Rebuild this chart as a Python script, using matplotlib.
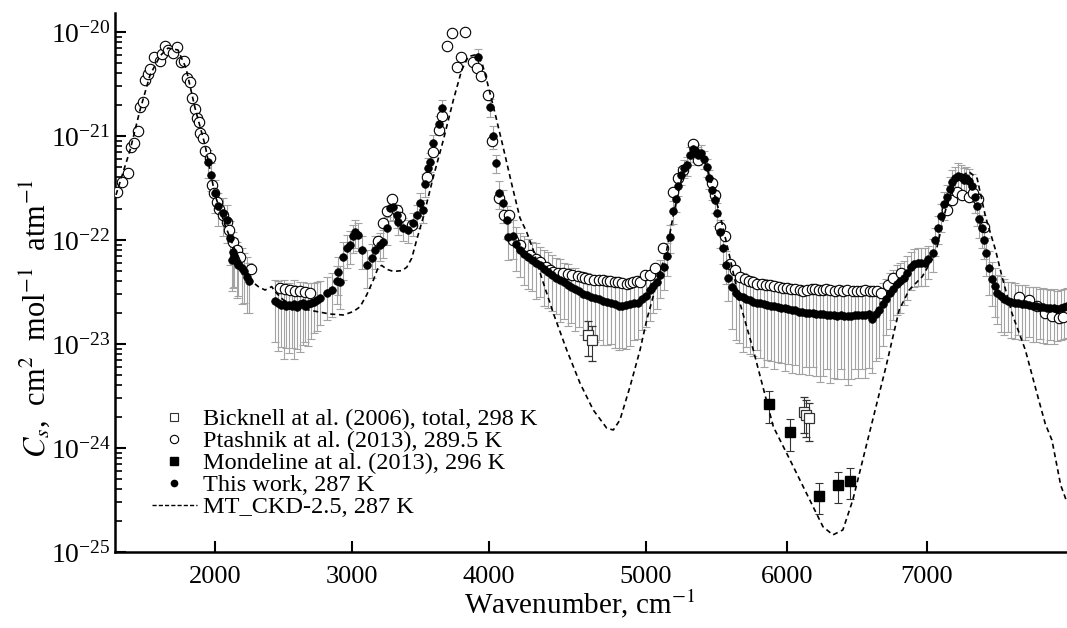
import numpy as np
import matplotlib.pyplot as plt
from matplotlib.lines import Line2D

plt.rcParams['font.family'] = ['Liberation Serif', 'DejaVu Serif']
plt.rcParams['mathtext.fontset'] = 'stix'

# ---- This work, 287 K (filled dots), values + relative errors, by region
tw_wn_a = [1951, 1969, 2000, 2024, 2056, 2085, 2110,
           2122, 2134, 2140, 2158, 2170, 2195, 2210, 2231, 2250]
tw_val_a = [5.6e-22, 4.2e-22, 2.8e-22, 2.1e-22, 1.8e-22, 1.56e-22, 1.04e-22,
            6.4e-23, 7.7e-23, 7.0e-23, 6.2e-23, 5.8e-23, 5.35e-23, 5.0e-23, 4.44e-23, 4.0e-23]
tw_rel_a = [0.3, 0.3, 0.35, 0.35, 0.4, 0.4, 0.45,
            0.5, 0.55, 0.5, 0.55, 0.5, 0.55, 0.5, 0.55, 0.5]

tw_wn_b = [2440, 2460, 2480, 2500, 2520, 2540, 2560, 2580, 2600, 2620, 2640, 2660,
           2680, 2700, 2720, 2745, 2770,
           2815, 2852, 2888, 2895, 2912, 2937, 2961, 2986, 3010, 3022, 3046, 3071, 3107]
tw_val_b = [2.6e-23, 2.45e-23, 2.35e-23, 2.4e-23, 2.3e-23, 2.35e-23, 2.3e-23, 2.4e-23,
            2.25e-23, 2.4e-23, 2.45e-23, 2.3e-23, 2.4e-23, 2.5e-23, 2.55e-23, 2.65e-23, 2.75e-23,
            3.07e-23, 3.3e-23, 4.0e-23, 4.95e-23, 3.9e-23, 6.9e-23, 8.3e-23, 8.95e-23,
            1.08e-22, 1.2e-22, 1.12e-22, 8.0e-23, 5.75e-23]
tw_rel_b = [0.6, 0.65, 0.6, 0.7, 0.6, 0.65, 0.6, 0.7, 0.6, 0.65, 0.6, 0.55, 0.6, 0.55,
            0.5, 0.5, 0.45,
            0.45, 0.45, 0.4, 0.4, 0.45, 0.4, 0.35, 0.35, 0.3, 0.3, 0.3, 0.35, 0.4]

tw_wn_c = [3144, 3168, 3205, 3229, 3254, 3278, 3302, 3326, 3338, 3375, 3411, 3448,
           3472, 3497, 3521,
           3533, 3557, 3570, 3594, 3637, 3655, 3922, 4006, 4024, 4043, 4066, 4091,
           4113, 4123]
tw_val_c = [6.7e-23, 8.0e-23, 8.95e-23, 9.6e-23, 1.29e-22, 2.02e-22, 2.09e-22, 1.74e-22,
            1.5e-22, 1.29e-22, 1.25e-22, 1.45e-22, 1.74e-22, 2.25e-22, 1.94e-22,
            3.43e-22, 4.9e-22, 5.66e-22, 8.5e-22, 1.3e-21, 1.85e-21, 5.7e-21, 1.89e-21,
            1.0e-21, 5.46e-22, 2.81e-22, 2.25e-22, 1.56e-22, 1.06e-22]
tw_rel_c = [0.35, 0.35, 0.3, 0.3, 0.3, 0.25, 0.25, 0.25, 0.25, 0.25, 0.25, 0.25, 0.25,
            0.25, 0.25,
            0.25, 0.25, 0.2, 0.2, 0.2, 0.2, 0.2, 0.2, 0.25, 0.2, 0.3, 0.35, 0.35, 0.4]

tw_wn_d = [4150, 4175, 4200, 4225, 4250, 4275, 4300, 4325, 4350, 4375, 4400, 4425,
           4450, 4475, 4500, 4525, 4550, 4575, 4600, 4625, 4650, 4675, 4700, 4725,
           4750, 4775, 4800, 4825, 4850, 4875, 4900, 4925, 4950, 4975, 5000]
tw_val_d = [1.1e-22, 9.2e-23, 8.0e-23, 7.3e-23, 6.8e-23, 6.4e-23, 6.0e-23, 5.7e-23,
            5.2e-23, 4.9e-23, 4.6e-23, 4.3e-23, 4.1e-23, 3.9e-23, 3.7e-23, 3.5e-23,
            3.35e-23, 3.2e-23, 3.05e-23, 2.95e-23, 2.85e-23, 2.75e-23, 2.7e-23, 2.6e-23,
            2.55e-23, 2.5e-23, 2.4e-23, 2.3e-23, 2.3e-23, 2.35e-23, 2.4e-23, 2.45e-23,
            2.5e-23, 2.7e-23, 2.9e-23]
tw_rel_d = [0.4, 0.45, 0.45, 0.5, 0.5, 0.5, 0.55, 0.5, 0.55, 0.55, 0.55, 0.55, 0.6, 0.55,
            0.6, 0.55, 0.6, 0.55, 0.6, 0.62, 0.6, 0.62, 0.6, 0.62, 0.62, 0.6, 0.62, 0.62,
            0.6, 0.62, 0.6, 0.55, 0.55, 0.5, 0.5]

tw_wn_e = [5025, 5050, 5075, 5100, 5125, 5150, 5170, 5190, 5210, 5230, 5250, 5270,
           5290, 5310, 5330, 5350, 5370, 5390, 5410, 5430, 5450, 5470, 5490, 5505,
           5525, 5545, 5565, 5585]
tw_val_e = [3.3e-23, 3.6e-23, 3.9e-23, 4.6e-23, 5.5e-23, 7.0e-23, 1.06e-22, 1.9e-22,
            2.5e-22, 3.3e-22, 4.2e-22, 4.9e-22, 5.2e-22, 6.5e-22, 7.5e-22, 7.0e-22,
            6.5e-22, 6.8e-22, 6.0e-22, 5.0e-22, 3.9e-22, 3.0e-22, 2.4e-22, 1.8e-22,
            1.2e-22, 8.3e-23, 5.8e-23, 4.3e-23]
tw_rel_e = [0.5, 0.45, 0.45, 0.4, 0.4, 0.35, 0.3, 0.25, 0.25, 0.2, 0.2, 0.2, 0.2, 0.2,
            0.2, 0.2, 0.2, 0.2, 0.2, 0.2, 0.2, 0.2, 0.25, 0.25, 0.3, 0.3, 0.35, 0.4]

tw_wn_f = [5610, 5635, 5660, 5685, 5710, 5735, 5760, 5785, 5810, 5835, 5860, 5885,
           5910, 5935, 5960, 5985, 6010, 6035, 6060, 6085, 6110, 6135, 6160, 6185,
           6210, 6235, 6260, 6285, 6310, 6335, 6360, 6385, 6410, 6435, 6460, 6485,
           6510, 6535, 6560, 6585, 6610, 6635, 6660]
tw_val_f = [3.5e-23, 3.1e-23, 2.9e-23, 2.8e-23, 2.7e-23, 2.65e-23, 2.55e-23, 2.5e-23,
            2.45e-23, 2.4e-23, 2.35e-23, 2.3e-23, 2.3e-23, 2.25e-23, 2.2e-23, 2.2e-23,
            2.15e-23, 2.1e-23, 2.1e-23, 2.05e-23, 2.05e-23, 2.0e-23, 2.0e-23, 2.0e-23,
            1.95e-23, 1.95e-23, 1.95e-23, 1.9e-23, 1.9e-23, 1.9e-23, 1.85e-23, 1.9e-23,
            1.85e-23, 1.85e-23, 1.85e-23, 1.9e-23, 1.9e-23, 1.9e-23, 1.9e-23, 1.95e-23,
            1.75e-23, 1.95e-23, 2.1e-23]
tw_rel_f = [0.6, 0.65, 0.65, 0.7, 0.65, 0.7, 0.7, 0.65, 0.7, 0.75, 0.7, 0.7, 0.75, 0.7,
            0.7, 0.75, 0.7, 0.75, 0.7, 0.75, 0.75, 0.7, 0.75, 0.7, 0.75, 0.78, 0.75, 0.7,
            0.78, 0.75, 0.75, 0.7, 0.75, 0.78, 0.75, 0.7, 0.75, 0.7, 0.75, 0.7, 0.7, 0.65,
            0.65]

tw_wn_g = [6685, 6710, 6735, 6760, 6785, 6810, 6835, 6860, 6885, 6910, 6935, 6960,
           6985, 7010, 7040, 7060, 7080, 7100, 7120, 7140, 7160, 7180, 7200, 7220,
           7240, 7260, 7280, 7300, 7320, 7340, 7355, 7370, 7390, 7405, 7420, 7440,
           7460, 7480, 7500]
tw_val_g = [2.4e-23, 2.7e-23, 3.1e-23, 3.4e-23, 3.8e-23, 4.0e-23, 4.3e-23, 4.8e-23,
            5.5e-23, 5.9e-23, 6.0e-23, 6.0e-23, 6.0e-23, 6.5e-23, 7.5e-23, 1.0e-22,
            1.3e-22, 1.7e-22, 2.2e-22, 2.6e-22, 3.1e-22, 3.6e-22, 3.9e-22, 4.1e-22,
            4.0e-22, 3.8e-22, 3.9e-22, 3.7e-22, 3.3e-22, 2.6e-22, 2.1e-22, 1.6e-22,
            1.3e-22, 1.0e-22, 7.5e-23, 5.4e-23, 4.2e-23, 3.6e-23, 3.1e-23]
tw_rel_g = [0.6, 0.55, 0.55, 0.5, 0.5, 0.5, 0.45, 0.45, 0.4, 0.4, 0.4, 0.4, 0.4, 0.35,
            0.35, 0.3, 0.3, 0.3, 0.3, 0.3, 0.3, 0.3, 0.3, 0.35, 0.3, 0.3, 0.3, 0.3, 0.3,
            0.3, 0.35, 0.35, 0.35, 0.35, 0.4, 0.45, 0.45, 0.5, 0.5]

tw_wn_h = [7525, 7550, 7575, 7600, 7625, 7650, 7675, 7700, 7725, 7750, 7775, 7800,
           7825, 7850, 7875, 7900, 7925, 7950, 7975, 7995]
tw_val_h = [2.9e-23, 2.7e-23, 2.6e-23, 2.55e-23, 2.5e-23, 2.45e-23, 2.4e-23, 2.4e-23,
            2.35e-23, 2.3e-23, 2.3e-23, 2.25e-23, 2.25e-23, 2.2e-23, 2.2e-23, 2.2e-23,
            2.15e-23, 2.2e-23, 2.25e-23, 2.3e-23]
tw_rel_h = [0.55, 0.55, 0.5, 0.55, 0.55, 0.5, 0.55, 0.55, 0.5, 0.55, 0.55, 0.5, 0.55,
            0.55, 0.5, 0.55, 0.5, 0.5, 0.5, 0.5]

# ---- Ptashnik et al. (2013), 289.5 K (open circles)
pt_wn = [1283, 1323, 1363, 1387, 1411, 1436, 1453, 1474, 1489, 1513, 1526, 1557,
         1599, 1611, 1635, 1659, 1696, 1723, 1752, 1774, 1793, 1818, 1830, 1854,
         1866, 1883, 1890, 1915, 1927, 1964, 1980, 1995, 2012, 2029, 2061, 2085,
         2102, 2134, 2158, 2183, 2261,
         2475, 2511, 2548, 2584, 2621, 2657, 2694,
         3192, 3229, 3254, 3290, 3326, 3351, 3436, 3550, 3589, 3635, 3659, 3691,
         3732, 3764, 3794, 3827, 3886, 3910, 3942, 3995, 4021, 4064, 4096, 4130,
         4155, 4197, 4261, 4300, 4325, 4360, 4390, 4410, 4440, 4470, 4500, 4530,
         4567, 4590, 4612, 4640, 4669, 4700, 4728, 4750, 4771, 4800, 4822, 4850,
         4877, 4900, 4917, 4940, 4962, 4994, 5028, 5064, 5123, 5194, 5229, 5264,
         5335, 5371, 5466, 5489, 5525, 5560, 5596, 5631, 5666, 5700, 5730, 5761,
         5790, 5820, 5850, 5879, 5910, 5940, 5970, 5998, 6030, 6060, 6090, 6115,
         6145, 6175, 6200, 6230, 6260, 6281, 6310, 6340, 6370, 6400, 6430, 6470,
         6500, 6530, 6560, 6590, 6612, 6640, 6671, 6718, 6760, 6812,
         7143, 7180, 7210, 7250, 7297, 7330, 7360, 7404,
         7652, 7723, 7780, 7841, 7890, 7936, 7970]
pt_val = [2.9e-22, 3.6e-22, 4.4e-22, 7.9e-22, 8.5e-22, 1.12e-21, 1.9e-21, 2.1e-21,
          3.45e-21, 3.9e-21, 4.4e-21, 5.7e-21, 5.3e-21, 6.2e-21, 7.4e-21, 6.7e-21,
          6.3e-21, 7.1e-21, 5.1e-21, 5.2e-21, 3.6e-21, 3.3e-21, 2.3e-21, 1.8e-21,
          1.5e-21, 1.37e-21, 1.06e-21, 9.5e-22, 7.1e-22, 6.1e-22, 3.4e-22, 2.8e-22,
          2.3e-22, 2.0e-22, 1.74e-22, 1.5e-22, 1.25e-22, 9.6e-23, 8.0e-23, 6.9e-23,
          5.2e-23,
          3.44e-23, 3.37e-23, 3.29e-23, 3.22e-23, 3.2e-23, 3.14e-23, 3.07e-23,
          9.8e-23, 1.45e-22, 1.88e-22, 2.48e-22, 1.94e-22, 1.67e-22, 1.39e-22,
          4.06e-22, 7.06e-22, 1.14e-21, 1.54e-21, 7.3e-21, 9.7e-21, 4.64e-21, 5.7e-21,
          1.0e-20, 5.18e-21, 4.48e-21, 3.77e-21, 2.48e-21, 8.95e-22, 2.52e-22,
          1.74e-22, 1.74e-22,
          1.0e-22, 8.9e-23, 7.2e-23, 6.5e-23, 6.1e-23, 5.5e-23, 5.1e-23, 4.95e-23,
          4.85e-23, 4.8e-23, 4.75e-23, 4.6e-23, 4.5e-23, 4.4e-23, 4.3e-23, 4.2e-23,
          4.15e-23, 4.1e-23, 4.1e-23, 4.0e-23, 4.0e-23, 3.9e-23, 3.9e-23, 3.85e-23,
          3.8e-23, 3.85e-23, 3.9e-23, 4.0e-23, 3.97e-23, 4.6e-23, 4.6e-23, 5.35e-23,
          8.3e-23, 2.9e-22, 3.9e-22, 4.7e-22, 8.4e-22, 5.9e-22, 3.5e-22, 2.7e-22,
          1.34e-22, 1.09e-22, 5.9e-23, 5.15e-23, 4.45e-23, 4.2e-23, 4.0e-23, 3.97e-23,
          3.8e-23, 3.75e-23, 3.7e-23, 3.7e-23, 3.6e-23, 3.5e-23, 3.45e-23, 3.45e-23,
          3.4e-23, 3.35e-23, 3.3e-23, 3.2e-23, 3.3e-23, 3.4e-23, 3.35e-23, 3.3e-23,
          3.3e-23, 3.4e-23, 3.3e-23, 3.2e-23, 3.3e-23, 3.2e-23, 3.3e-23, 3.2e-23,
          3.25e-23, 3.2e-23, 3.3e-23, 3.2e-23, 3.2e-23, 3.25e-23, 3.07e-23, 3.7e-23,
          4.3e-23, 4.8e-23,
          1.94e-22, 2.4e-22, 2.9e-22, 2.7e-22, 2.6e-22, 2.8e-22, 2.5e-22, 1.34e-22,
          2.85e-23, 2.65e-23, 2.3e-23, 1.97e-23, 1.85e-23, 1.77e-23, 1.8e-23]

# ---- Bicknell et al. (2006), total, 298 K (open squares)
bk_wn = [4633, 4658, 6122, 6139, 6158]
bk_val = [1.22e-23, 1.09e-23, 2.23e-24, 2.07e-24, 1.93e-24]
bk_err = [4.5e-24, 4.0e-24, 8.5e-25, 8.0e-25, 7.5e-25]

# ---- Mondeline et al. (2013), 296 K (filled squares)
mo_wn = [5872, 6021, 6227, 6366, 6448]
mo_val = [2.63e-24, 1.42e-24, 3.47e-25, 4.38e-25, 4.85e-25]
mo_err = [8.8e-25, 4.8e-25, 1.15e-25, 1.45e-25, 1.6e-25]

# ---- MT_CKD-2.5, 287 K (dashed)
ck_wn = [1277, 1380, 1453, 1526, 1599, 1657, 1730, 1788, 1854, 1927, 2000, 2073,
         2146, 2219, 2256, 2316, 2365, 2414, 2438, 2499, 2621, 2742, 2840, 2937,
         3010, 3059, 3107, 3156, 3192, 3217, 3254, 3302, 3364, 3400, 3436, 3472,
         3521, 3594, 3667, 3740, 3801, 3849, 3898, 3947, 3983, 4038, 4091, 4146,
         4197, 4240, 4282, 4336, 4410, 4495, 4580, 4664, 4750, 4792, 4834, 4898,
         4962, 5005, 5076, 5147, 5194, 5241, 5291, 5347, 5404, 5468, 5525, 5596,
         5666, 5761, 5903, 6021, 6139, 6257, 6328, 6399, 6470, 6588, 6707, 6801,
         6872, 6966, 7061, 7132, 7203, 7297, 7356, 7416, 7487, 7533, 7604, 7699,
         7794, 7841, 7888, 7950, 7995]
ck_val = [2.71e-22, 7.3e-22, 1.78e-21, 3.86e-21, 5.88e-21, 7.0e-21, 6.7e-21, 4.5e-21,
          1.86e-21, 8.2e-22, 2.71e-22, 1.39e-22, 8.0e-23, 5.15e-23, 4.12e-23, 3.56e-23,
          3.3e-23, 3.56e-23, 3.18e-23, 2.65e-23, 2.2e-23, 2.05e-23, 1.94e-23, 1.9e-23,
          2.05e-23, 2.28e-23, 2.96e-23, 4.12e-23, 5.47e-23, 5.69e-23, 5.22e-23, 4.98e-23,
          5.07e-23, 5.47e-23, 6.67e-23, 1.0e-22, 1.67e-22, 4.06e-22, 9.16e-22, 2.22e-21,
          4.31e-21, 5.79e-21, 6.01e-21, 5.15e-21, 3.45e-21, 1.66e-21, 7.7e-22, 3.38e-22,
          1.63e-22, 1.19e-22, 8.0e-23, 4.3e-23, 1.97e-23, 8.75e-24, 4.19e-24, 2.32e-24,
          1.55e-24, 1.49e-24, 1.86e-24, 3.88e-24, 8.75e-24, 1.7e-23, 3.83e-23, 8.0e-23,
          1.74e-22, 3.38e-22, 5.9e-22, 8.2e-22, 6.56e-22, 3.38e-22, 1.74e-22, 6.7e-23,
          2.48e-23, 8.75e-24, 1.6e-24, 7.7e-25, 3.67e-25, 1.75e-25, 1.46e-25, 1.63e-25,
          3.16e-25, 1.38e-24, 6.05e-24, 2.12e-23, 3.3e-23, 4.44e-23, 7.45e-23, 1.94e-22,
          3.77e-22, 4.54e-22, 3.92e-22, 1.67e-22, 8.0e-23, 4.44e-23, 1.97e-23, 8.75e-24,
          2.9e-24, 1.7e-24, 1.19e-24, 4.4e-25, 3.0e-25]

# the original wavenumber axis is not quite uniform: tick spacing
axis_wn = [-10000, 1270, 2000, 3000, 4000, 5000, 6000, 7000, 7995, 30000]
axis_pos = [-1429, 115, 215, 352, 489, 646, 787, 927, 1067, 4188]


def wn_fwd(x):
    return np.interp(x, axis_wn, axis_pos)


def wn_inv(p):
    return np.interp(p, axis_pos, axis_wn)


tw_wn = np.array(tw_wn_a + tw_wn_b + tw_wn_c + tw_wn_d + tw_wn_e + tw_wn_f + tw_wn_g + tw_wn_h)
tw_val = np.array(tw_val_a + tw_val_b + tw_val_c + tw_val_d + tw_val_e + tw_val_f + tw_val_g + tw_val_h)
tw_rel = np.array(tw_rel_a + tw_rel_b + tw_rel_c + tw_rel_d + tw_rel_e + tw_rel_f + tw_rel_g + tw_rel_h)

fig = plt.figure(figsize=(10.67, 6.28), dpi=100)
ax = fig.add_axes([115 / 1067, 76 / 628, 952 / 1067, 539 / 628])
ax.set_xscale('function', functions=(wn_fwd, wn_inv))

ax.errorbar(tw_wn, tw_val, yerr=tw_val * tw_rel, fmt='none', ecolor='#a3a3a3',
            elinewidth=0.8, capsize=3, capthick=0.8, zorder=1)
ax.plot(pt_wn, pt_val, 'o', ms=7.5, mfc='white', mec='black', mew=0.8, zorder=3)
ax.plot(tw_wn, tw_val, 'o', ms=5.5, mfc='black', mec='black', mew=0.5, zorder=4)
ax.plot(ck_wn, ck_val, color='black', lw=1.2, dashes=(3, 2.2), zorder=5)
ax.errorbar(bk_wn, bk_val, yerr=bk_err, fmt='s', ms=7, mfc='white', mec='#333333',
            mew=0.9, ecolor='#333333', elinewidth=0.8, capsize=3, capthick=0.8, zorder=3)
ax.errorbar(mo_wn, mo_val, yerr=mo_err, fmt='s', ms=7, mfc='black', mec='black',
            ecolor='#333333', elinewidth=0.8, capsize=3, capthick=0.8, zorder=3)

ax.set_yscale('log')
ax.set_xlim(1270, 7995)
ax.set_ylim(1e-25, 1.52e-20)
ax.set_yticks([1e-25, 1e-24, 1e-23, 1e-22, 1e-21, 1e-20])
ax.set_xticks([2000, 3000, 4000, 5000, 6000, 7000])
ax.set_xticklabels(['2000', '3000', '4000', '5000', '6000', '7000'])
ax.xaxis.set_minor_locator(plt.NullLocator())

for s in ['top', 'right']:
    ax.spines[s].set_visible(False)
for s in ['left', 'bottom']:
    ax.spines[s].set_linewidth(1.8)
ax.tick_params(axis='both', which='major', direction='in', length=8, width=1.5)
ax.tick_params(axis='x', which='major', labelsize=19, pad=10)
ax.tick_params(axis='y', which='major', labelsize=20, pad=3)
ax.tick_params(axis='y', which='minor', direction='in', length=5, width=1.2)

ax.set_xlabel('Wavenumber, cm$^{-1}$', fontsize=21)
ax.xaxis.set_label_coords(0.488, -0.066)
ax.set_ylabel(r'$C_s$,  cm$^2$  mol$^{-1}$  atm$^{-1}$', fontsize=22)
ax.yaxis.set_label_coords(-0.066, 0.434)

handles = [
    Line2D([], [], ls='none', marker='s', ms=6, mfc='white', mec='#333333', mew=0.8),
    Line2D([], [], ls='none', marker='o', ms=6, mfc='white', mec='black', mew=0.8),
    Line2D([], [], ls='none', marker='s', ms=6, mfc='black', mec='black'),
    Line2D([], [], ls='none', marker='o', ms=4.5, mfc='black', mec='black'),
    Line2D([], [], color='black', lw=1.0, dashes=(3, 1.5)),
]
labels = ['Bicknell at al. (2006), total, 298 K',
          'Ptashnik at al. (2013), 289.5 K',
          'Mondeline at al. (2013), 296 K',
          'This work, 287 K',
          'MT_CKD-2.5, 287 K']
fig.legend(handles, labels, loc='upper left', bbox_to_anchor=(152 / 1067, 1 - 408 / 628),
           frameon=False, fontsize=17.5, handlelength=1.85, handletextpad=0.25,
           labelspacing=0.0, borderpad=0, borderaxespad=0)

fig.savefig('out.png', dpi=100)
